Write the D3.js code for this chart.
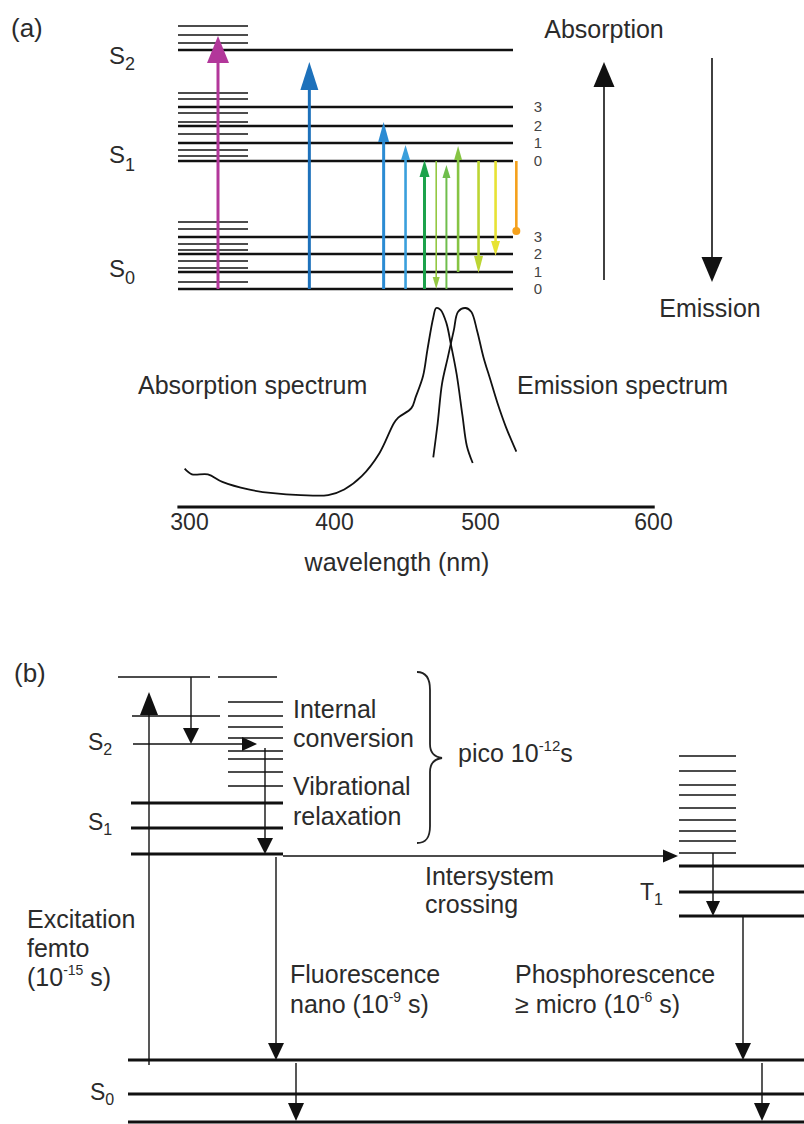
<!DOCTYPE html>
<html>
<head>
<meta charset="utf-8">
<script src="https://cdn.jsdelivr.net/npm/d3@7"></script>
<style>
body { margin: 0; background: #fff; }
text { font-family: "Liberation Sans", Arial, sans-serif; fill: #2b2b2b; }
</style>
</head>
<body>
<script>
// ---------- panel (a) data ----------
// energy levels in arbitrary units (S0, v=0 is 0)
const s0Main = [0, 17, 35, 52];
const s0Sub = [7, 21, 28, 39, 45, 60, 67];
const s1Main = [128, 146, 163, 182];
const s1Sub = [133, 139, 155, 167, 176, 190, 196];
const s2Main = [239];
const s2Sub = [246, 254, 263];
const vibLabels = ["0", "1", "2", "3"];

// transitions, placed at their wavelength
const transWl = [320, 383, 434, 449, 462, 470, 477, 485, 499, 509, 521];
const transFrom = [0, 0, 0, 0, 0, 128, 0, 17, 128, 128, 128];
const transTo = [253, 227, 167, 144, 129, 0, 124, 143, 16, 33, 52];
const transColor = ["#b2379a", "#1d71bb", "#2b8bd3", "#3a9fdc", "#1da24b", "#93c842",
                    "#6fbe4c", "#86c443", "#bcd533", "#e7e334", "#f5a11c"];

// spectra (wavelength nm, normalised intensity)
const absWl = [297, 302, 313, 323, 341, 358, 377, 396, 407, 419, 431, 441, 444, 453, 456,
               461, 464, 468, 470, 473, 477, 480, 484, 488, 491, 495];
const absI = [0.15, 0.12, 0.12, 0.08, 0.04, 0.02, 0.01, 0.01, 0.04, 0.11, 0.23, 0.39, 0.42,
              0.47, 0.53, 0.64, 0.78, 0.95, 1.0, 0.99, 0.92, 0.81, 0.65, 0.43, 0.27, 0.18];
const emWl = [468, 471, 474, 478, 482, 485, 490, 494, 498, 502, 506, 510, 515, 521];
const emI = [0.21, 0.39, 0.60, 0.74, 0.88, 0.98, 1.0, 0.98, 0.88, 0.74, 0.62, 0.50, 0.37, 0.24];
const wlTicks = [300, 400, 500, 600];

// ---------- panel (b) data ----------
const bS0 = [0, 28, 62];
const bS1 = [268, 294, 319];
const bS1vib = [336, 350, 363, 371, 384, 395, 406, 420];
const bT1 = [206, 230, 256];
const bT1vib = [269, 281, 291, 302, 314, 327, 337, 351, 366];

const W = 804, H = 1124;
const FS = 25;
const svg = d3.select("body").append("svg").attr("width", W).attr("height", H);

const yE = d3.scaleLinear().domain([0, 263]).range([289, 26]);
const xW = d3.scaleLinear().domain(wlTicks).range([189, 334, 480, 653]);
const yI = d3.scaleLinear().domain([0, 1]).range([497, 308]);
const yB = d3.scaleLinear().domain([0, 446]).range([1122, 676]);

function vArrow(g, x, yFrom, yTip, color, sw, headW, headL){
    const dir = yTip < yFrom ? 1 : -1;
    const yBase = yTip + dir * headL;
    g.append("line")
        .attr("x1", x).attr("x2", x)
        .attr("y1", yFrom).attr("y2", yBase)
        .attr("stroke", color).attr("stroke-width", sw);
    g.append("path")
        .attr("d", `M${x},${yTip}L${x - headW/2},${yBase}L${x + headW/2},${yBase}Z`)
        .attr("fill", color);
}

function hArrow(g, y, xFrom, xTip, color, sw, headW, headL){
    const xBase = xTip - headL;
    g.append("line")
        .attr("x1", xFrom).attr("x2", xBase)
        .attr("y1", y).attr("y2", y)
        .attr("stroke", color).attr("stroke-width", sw);
    g.append("path")
        .attr("d", `M${xTip},${y}L${xBase},${y - headW/2}L${xBase},${y + headW/2}Z`)
        .attr("fill", color);
}

function label(g, x, y, main, sub, size, subSize, dy){
    let t = g.append("text").attr("x", x).attr("y", y).style("font-size", size + "px");
    t.append("tspan").text(main);
    if (sub) t.append("tspan").attr("dy", dy).style("font-size", subSize + "px").text(sub);
    return t;
}

// ================= panel (a) =================
const a = svg.append("g");

a.append("text").attr("x", 11).attr("y", 37).style("font-size", "26px").text("(a)");

// vibrational sub-levels (short)
a.selectAll(".sub").data(s0Sub.concat(s1Sub, s2Sub)).enter().append("line")
    .attr("x1", 178).attr("x2", 248)
    .attr("y1", d => yE(d)).attr("y2", d => yE(d))
    .attr("stroke", "#111").attr("stroke-width", 1.7);

// main levels (long)
a.selectAll(".main").data(s0Main.concat(s1Main, s2Main)).enter().append("line")
    .attr("x1", 178).attr("x2", 513)
    .attr("y1", d => yE(d)).attr("y2", d => yE(d))
    .attr("stroke", "#111").attr("stroke-width", 2.7);

// vibrational quantum numbers
[s0Main, s1Main].forEach(arr => {
    a.selectAll(null).data(arr).enter().append("text")
        .attr("x", 538).attr("y", d => yE(d)).attr("dy", "0.36em")
        .attr("text-anchor", "middle")
        .style("font-size", "15px").style("fill", "#444")
        .text((d, i) => vibLabels[i]);
});

label(a, 109, 64, "S", "2", 24, 18, 6);
label(a, 109, 163, "S", "1", 24, 18, 8);
label(a, 109, 277, "S", "0", 24, 18, 7);

// coloured transitions
const transSW = [3, 3, 3, 2.6, 3, 1.6, 2, 2.6, 2.6, 2.6, 2.6];
const transHead = [[22, 27], [18, 28], [11, 20], [9, 15], [10, 17], [7, 12], [8, 13], [8, 14], [9, 17], [9, 15], [0, 0]];
transWl.forEach((wl, i) => {
    const x = xW(wl);
    if (transHead[i][0] === 0) {
        a.append("line").attr("x1", x).attr("x2", x)
            .attr("y1", yE(transFrom[i])).attr("y2", yE(transTo[i]) - 5)
            .attr("stroke", transColor[i]).attr("stroke-width", transSW[i]);
        a.append("circle").attr("cx", x).attr("cy", yE(transTo[i]) - 6).attr("r", 4)
            .attr("fill", transColor[i]);
    } else {
        vArrow(a, x, yE(transFrom[i]), yE(transTo[i]), transColor[i], transSW[i],
               transHead[i][0], transHead[i][1]);
    }
});

// absorption / emission direction arrows
vArrow(a, 604, yE(9), yE(227), "#111", 1.6, 21, 25);
vArrow(a, 712, yE(231), yE(7), "#111", 1.6, 21, 25);
a.append("text").attr("x", 604).attr("y", 38).attr("text-anchor", "middle")
    .style("font-size", FS + "px").text("Absorption");
a.append("text").attr("x", 710).attr("y", 317).attr("text-anchor", "middle")
    .style("font-size", FS + "px").text("Emission");

// spectra
const line = d3.line().x(d => xW(d[0])).y(d => yI(d[1])).curve(d3.curveCatmullRom);
a.append("path").datum(d3.zip(absWl, absI)).attr("d", line)
    .attr("fill", "none").attr("stroke", "#111").attr("stroke-width", 1.8);
a.append("path").datum(d3.zip(emWl, emI)).attr("d", line)
    .attr("fill", "none").attr("stroke", "#111").attr("stroke-width", 1.8);

a.append("text").attr("x", 138).attr("y", 394).style("font-size", FS + "px").text("Absorption spectrum");
a.append("text").attr("x", 517).attr("y", 394).style("font-size", FS + "px").text("Emission spectrum");

// wavelength axis
const axis = a.append("g").attr("transform", "translate(0,507)")
    .call(d3.axisBottom(xW).tickValues(wlTicks).tickSize(0).tickPadding(7).tickFormat(d3.format("d")));
axis.select(".domain").remove();
axis.selectAll("text").style("font-size", "23px").style("font-family", "Liberation Sans, Arial, sans-serif")
    .attr("fill", "#2b2b2b");
a.append("line").attr("x1", xW(292)).attr("x2", xW(601)).attr("y1", 507).attr("y2", 507)
    .attr("stroke", "#111").attr("stroke-width", 3);
a.append("text").attr("x", 397).attr("y", 571).attr("text-anchor", "middle")
    .style("font-size", FS + "px").text("wavelength (nm)");

// ================= panel (b) =================
const b = svg.append("g");
const thin = 1.4, thick = 2.8;

b.append("text").attr("x", 14).attr("y", 682).style("font-size", "26px").text("(b)");

// S2 manifold (thin)
[[118, 210], [218, 277]].forEach(s => {
    b.append("line").attr("x1", s[0]).attr("x2", s[1]).attr("y1", yB(445)).attr("y2", yB(445))
        .attr("stroke", "#111").attr("stroke-width", thin);
});
b.append("line").attr("x1", 132).attr("x2", 220).attr("y1", yB(406)).attr("y2", yB(406))
    .attr("stroke", "#111").attr("stroke-width", thin);
hArrow(b, yB(378), 133, 257, "#111", thin, 14, 15);

// vibrational stack above S1
b.selectAll(null).data(bS1vib).enter().append("line")
    .attr("x1", 228).attr("x2", 283)
    .attr("y1", d => yB(d)).attr("y2", d => yB(d))
    .attr("stroke", "#111").attr("stroke-width", thin);

// S1 levels
b.selectAll(null).data(bS1).enter().append("line")
    .attr("x1", 131).attr("x2", 283)
    .attr("y1", d => yB(d)).attr("y2", d => yB(d))
    .attr("stroke", "#111").attr("stroke-width", thick);

// intersystem crossing
hArrow(b, yB(266), 283, 678, "#111", thin, 13, 15);

// T1 stack and levels
b.selectAll(null).data(bT1vib).enter().append("line")
    .attr("x1", 679).attr("x2", 736)
    .attr("y1", d => yB(d)).attr("y2", d => yB(d))
    .attr("stroke", "#111").attr("stroke-width", thin);
b.selectAll(null).data(bT1).enter().append("line")
    .attr("x1", 679).attr("x2", W)
    .attr("y1", d => yB(d)).attr("y2", d => yB(d))
    .attr("stroke", "#111").attr("stroke-width", thick);

// S0 levels
b.selectAll(null).data(bS0).enter().append("line")
    .attr("x1", 128).attr("x2", W)
    .attr("y1", d => yB(d)).attr("y2", d => yB(d))
    .attr("stroke", "#111").attr("stroke-width", thick);

// arrows
vArrow(b, 149, yB(57), yB(430), "#111", thin, 18, 23);      // excitation
vArrow(b, 191, yB(445), yB(378), "#111", thin, 16, 16);     // S2 relaxation
vArrow(b, 265, yB(374), yB(268), "#111", thin, 16, 16);     // to S1 v=0
vArrow(b, 713, yB(269), yB(206), "#111", thin, 14, 15);     // T1 relaxation
vArrow(b, 276, yB(265), yB(62), "#111", thin, 16, 17);      // fluorescence
vArrow(b, 743, yB(205), yB(62), "#111", thin, 16, 17);      // phosphorescence
vArrow(b, 296, yB(59), yB(1), "#111", thin, 16, 18);
vArrow(b, 762, yB(59), yB(1), "#111", thin, 16, 18);

// brace
const br = d3.path();
br.moveTo(417, 672);
br.bezierCurveTo(426, 672, 430, 678, 430, 690);
br.lineTo(430, 744);
br.bezierCurveTo(430, 752, 434, 757, 442, 758);
br.bezierCurveTo(434, 759, 430, 764, 430, 772);
br.lineTo(430, 826);
br.bezierCurveTo(430, 838, 426, 843, 417, 843);
b.append("path").attr("d", br.toString()).attr("fill", "none")
    .attr("stroke", "#222").attr("stroke-width", 1.8);

// labels
label(b, 88, 750, "S", "2", 23, 16, 5);
label(b, 88, 830, "S", "1", 23, 16, 5);
label(b, 90, 1100, "S", "0", 23, 16, 5);
label(b, 640, 900, "T", "1", 23, 16, 5);

[["Internal", 718], ["conversion", 747], ["Vibrational", 795], ["relaxation", 825]].forEach(d => {
    b.append("text").attr("x", 293).attr("y", d[1]).style("font-size", FS + "px").text(d[0]);
});

let pico = b.append("text").attr("x", 458).attr("y", 762).style("font-size", FS + "px");
pico.append("tspan").text("pico 10");
pico.append("tspan").attr("dy", -11).style("font-size", "15px").text("-12");
pico.append("tspan").attr("dy", 11).text("s");

b.append("text").attr("x", 425).attr("y", 885).style("font-size", FS + "px").text("Intersystem");
b.append("text").attr("x", 425).attr("y", 913).style("font-size", FS + "px").text("crossing");

b.append("text").attr("x", 27).attr("y", 928).style("font-size", FS + "px").text("Excitation");
b.append("text").attr("x", 27).attr("y", 957).style("font-size", FS + "px").text("femto");
let ex = b.append("text").attr("x", 27).attr("y", 986).style("font-size", FS + "px");
ex.append("tspan").text("(10");
ex.append("tspan").attr("dy", -11).style("font-size", "14px").text("-15");
ex.append("tspan").attr("dy", 11).text(" s)");

b.append("text").attr("x", 290).attr("y", 983).style("font-size", FS + "px").text("Fluorescence");
let fl = b.append("text").attr("x", 290).attr("y", 1013).style("font-size", FS + "px");
fl.append("tspan").text("nano (10");
fl.append("tspan").attr("dy", -11).style("font-size", "14px").text("-9");
fl.append("tspan").attr("dy", 11).text(" s)");

b.append("text").attr("x", 515).attr("y", 983).style("font-size", FS + "px").text("Phosphorescence");
let ph = b.append("text").attr("x", 515).attr("y", 1013).style("font-size", FS + "px");
ph.append("tspan").text("\u2265 micro (10");
ph.append("tspan").attr("dy", -11).style("font-size", "14px").text("-6");
ph.append("tspan").attr("dy", 11).text(" s)");
</script>
</body>
</html>
